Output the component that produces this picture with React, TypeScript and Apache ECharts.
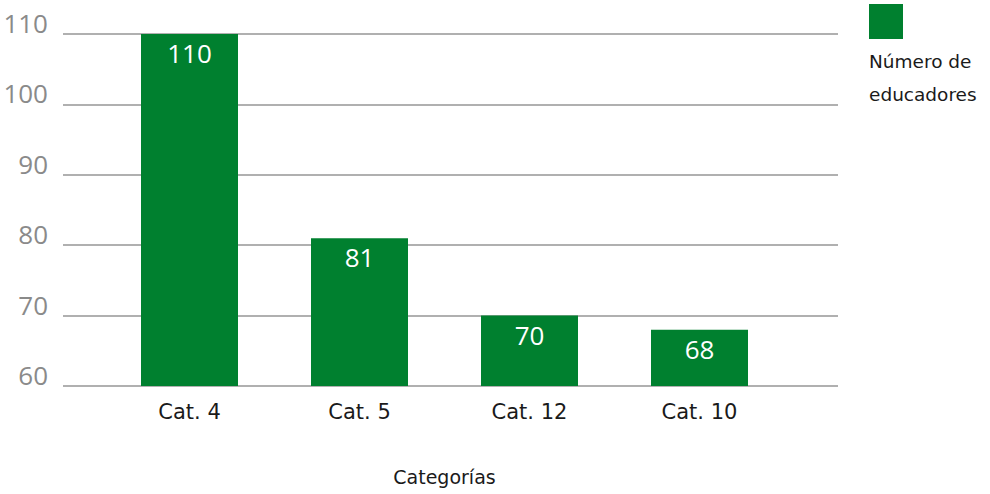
import React, { useEffect, useRef } from "react";
import * as echarts from "echarts";

const categories = ["Cat. 4", "Cat. 5", "Cat. 12", "Cat. 10"];
const values = [110, 81, 70, 68];
const seriesName = "Número de educadores";
const legendText = "Número de\neducadores";
const axisTitle = "Categorías";
const yMin = 60;
const yMax = 110;
const yStep = 10;

export default function App() {
  const ref = useRef<HTMLDivElement>(null);
  useEffect(() => {
    document.body.style.margin = "0";
    const chart = echarts.init(ref.current!, null, { renderer: "svg" });
    const green = "#00802f";
    chart.setOption({
      animation: false,
      backgroundColor: "#ffffff",
      legend: {
        data: [seriesName],
        left: 869,
        top: 4,
        icon: "rect",
        itemWidth: 34,
        itemHeight: 35,
        padding: 0,
        formatter: () => "",
        selectedMode: false,
      },
      graphic: [
        {
          type: "text",
          left: 869,
          top: 45,
          style: {
            text: legendText,
            font: '18.5px "DejaVu Sans"',
            fill: "#1a1a1a",
            lineHeight: 33,
          },
        },
      ],
      grid: [
        { left: 63, right: 152, top: 34, bottom: 108 },
        { left: 104.5, right: 205.5, top: 34, bottom: 108 },
      ],
      xAxis: [
        { gridIndex: 0, type: "category", data: categories, show: false },
        {
          gridIndex: 1,
          type: "category",
          data: categories,
          axisLine: { show: false },
          axisTick: { show: false },
          axisLabel: {
            margin: 15,
            fontSize: 21,
            fontFamily: "DejaVu Sans",
            color: "#1a1a1a",
          },
          name: axisTitle,
          nameLocation: "middle",
          nameGap: 81,
          nameTextStyle: {
            fontSize: 19,
            fontFamily: "DejaVu Sans",
            color: "#1a1a1a",
          },
        },
      ],
      yAxis: [
        {
          gridIndex: 0,
          type: "value",
          min: yMin,
          max: yMax,
          interval: yStep,
          axisLine: { show: false },
          axisTick: { show: false },
          splitLine: { lineStyle: { color: "#b0b0b0", width: 2 } },
          axisLabel: {
            margin: 15,
            fontSize: 26,
            fontFamily: "Open Sans",
            color: "#8a8a8a",
            verticalAlign: "bottom",
            lineHeight: 22,
          },
        },
        {
          gridIndex: 1,
          type: "value",
          min: yMin,
          max: yMax,
          interval: yStep,
          show: false,
          splitLine: { show: false },
        },
      ],
      series: [
        {
          name: seriesName,
          type: "bar",
          xAxisIndex: 1,
          yAxisIndex: 1,
          data: values,
          barWidth: 97,
          itemStyle: { color: green },
          label: {
            show: true,
            position: "insideTop",
            distance: 6,
            color: "#ffffff",
            fontSize: 26,
            fontFamily: "Open Sans",
          },
        },
      ],
    });
    return () => chart.dispose();
  }, []);
  return (
    <div
      ref={ref}
      style={{ position: "fixed", left: 0, top: 0, width: 990, height: 494 }}
    />
  );
}
